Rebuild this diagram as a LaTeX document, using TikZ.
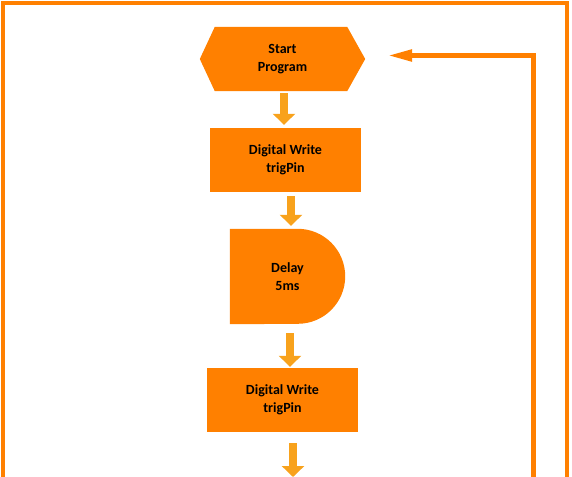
\documentclass[tikz,border=0pt]{standalone}
\usepackage{fontspec}
\setmainfont{Carlito}
\usetikzlibrary{arrows.meta,calc}
\definecolor{boxorange}{HTML}{FF8000}
\definecolor{arroworange}{HTML}{F8A21C}
\pgfdeclarelayer{bg}
\pgfsetlayers{bg,main}
\begin{document}
\begin{tikzpicture}[x=1pt,y=1pt,
  label/.style={rectangle, inner sep=0pt, align=center,
    font=\bfseries\fontsize{14}{17.5}\selectfont},
  box/.style={label, fill=boxorange, minimum width=151pt, minimum height=64pt},
  flow/.style={draw=arroworange, line width=8.5pt, -{Triangle[width=22pt,length=11pt]}},
  frameline/.style={draw=boxorange, line width=4.5pt},
  loopline/.style={draw=boxorange, line width=5pt, -{Triangle[width=11pt,length=25pt]}}]
\useasboundingbox (0,0) rectangle (572,-476);
% outer frame
\coordinate (fbl) at (3,-478);
\coordinate (ftl) at (3,-3);
\coordinate (ftr) at (567,-3);
\coordinate (fbr) at (567,-478);
\draw[frameline] (fbl) -- (ftl) -- (ftr) -- (fbr);
% nodes
\node[label, minimum width=165pt, minimum height=64pt] (start) at (282.5,-59) {Start\\Program};
\begin{pgfonlayer}{bg}
\fill[boxorange] (start.west) -- ([xshift=15pt]start.north west) -- ([xshift=-18pt]start.north east)
  -- (start.east) -- ([xshift=-18pt]start.south east) -- ([xshift=15pt]start.south west) -- cycle;
\end{pgfonlayer}
\node[box] (w1) at (285.5,-160) {Digital Write\\trigPin};
\node[label, minimum width=115pt, minimum height=95pt] (delay) at (287.5,-276.5) {Delay\\5ms};
\begin{pgfonlayer}{bg}
\fill[boxorange] (delay.south west) -- (delay.north west) -- ([xshift=-47.5pt]delay.north east)
  arc[start angle=90, end angle=-90, radius=47.5pt] -- cycle;
\end{pgfonlayer}
\node[box] (w2) at (282.5,-400) {Digital Write\\trigPin};
\coordinate (out) at (293,-477);
\coordinate (loopbot) at (533.5,-478);
% connectors
\draw[flow, shorten <=2pt, shorten >=3pt] ([xshift=1.5pt]start.south) -- ([xshift=-1.5pt]w1.north);
\draw[flow, shorten <=4pt, shorten >=3pt] ([xshift=5.5pt]w1.south) -- ([xshift=3.5pt]delay.north);
\draw[flow, shorten <=9pt, shorten >=1pt] ([xshift=2.5pt]delay.south) -- ([xshift=7.5pt]w2.north);
\draw[flow, shorten <=11pt] ([xshift=10.5pt]w2.south) -- (out);
\draw[loopline] (loopbot) |- ([xshift=22pt,yshift=3.5pt]start.east);
\end{tikzpicture}
\end{document}
